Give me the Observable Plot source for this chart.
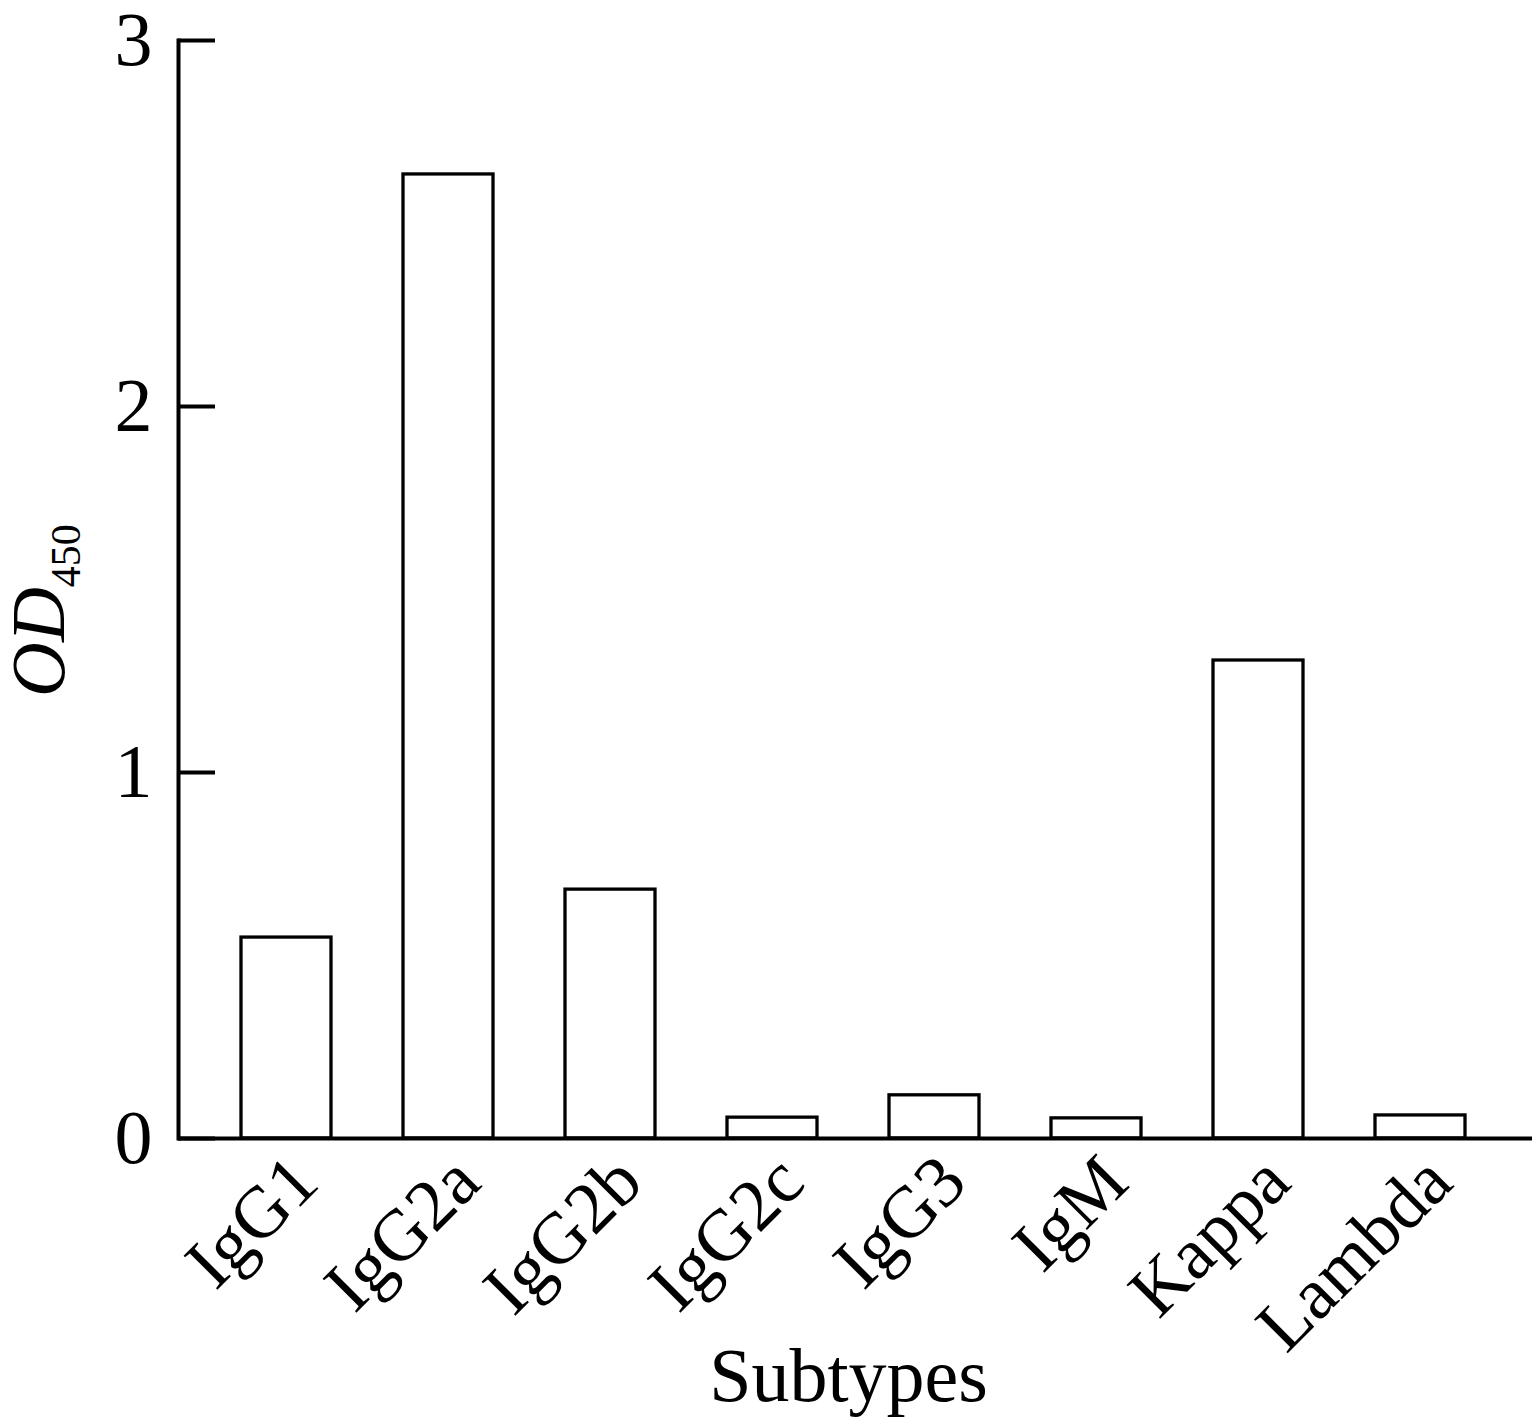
<!DOCTYPE html>
<html>
<head>
<meta charset="utf-8">
<script src="https://cdn.jsdelivr.net/npm/d3@7"></script>
<script src="https://cdn.jsdelivr.net/npm/@observablehq/plot@0.6"></script>
<style>
  html, body { margin: 0; padding: 0; background: #fff; }
  #chart svg { display: block; }
</style>
</head>
<body>
<div id="chart"></div>
<script>
const categories = ["IgG1", "IgG2a", "IgG2b", "IgG2c", "IgG3", "IgM", "Kappa", "Lambda"];
const values = [0.549, 2.634, 0.680, 0.057, 0.118, 0.055, 1.306, 0.063];
const yTicks = [0, 1, 2, 3];
const xTitle = "Subtypes";

const data = categories.map((c, i) => ({subtype: c, od: values[i]}));
const font = "'Liberation Serif', 'Times New Roman', serif";

const svg = Plot.plot({
  width: 1532,
  height: 1422,
  marginTop: 40,
  marginBottom: 284,
  marginLeft: 178,
  marginRight: 0,
  style: {fontFamily: font, fontSize: "74px", background: "#fff", color: "#000"},
  x: {domain: categories, range: [205, 1501], paddingInner: 0.4444, paddingOuter: 0.2222, axis: null},
  y: {domain: [0, 3], ticks: yTicks, label: null},
  marks: [
    Plot.barY(data, {x: "subtype", y: "od", fill: "#fff", stroke: "#000", strokeWidth: 3.3}),
    Plot.ruleY([0], {stroke: "#000", strokeWidth: 4}),
    Plot.frame({anchor: "left", stroke: "#000", strokeWidth: 4}),
    Plot.ruleY(yTicks, {stroke: "#000", strokeWidth: 4, insetRight: 1317}),
    Plot.axisY({ticks: yTicks, tickSize: 0, tickPadding: 26, fontSize: 76, label: null, tickFormat: d => String(d)}),
    Plot.text(data, {x: "subtype", y: () => 0, text: "subtype", rotate: -45, textAnchor: "end", lineAnchor: "bottom", dx: 35, dy: 47, fontSize: 73, fill: "#000"}),
    Plot.text([xTitle], {frameAnchor: "bottom", text: d => d, lineAnchor: "bottom", dy: 262, dx: -7, fontSize: 76, fill: "#000"})
  ]
});

const s = d3.select(svg);
const t = s.append("text")
  .attr("transform", "translate(64,697) rotate(-90)")
  .attr("text-anchor", "start")
  .attr("font-family", font)
  .attr("font-size", 76)
  .attr("fill", "#000");
t.append("tspan").attr("font-style", "italic").text("OD");
t.append("tspan").attr("font-size", 42).attr("dy", 16).text("450");

document.getElementById("chart").appendChild(svg);
</script>
</body>
</html>
